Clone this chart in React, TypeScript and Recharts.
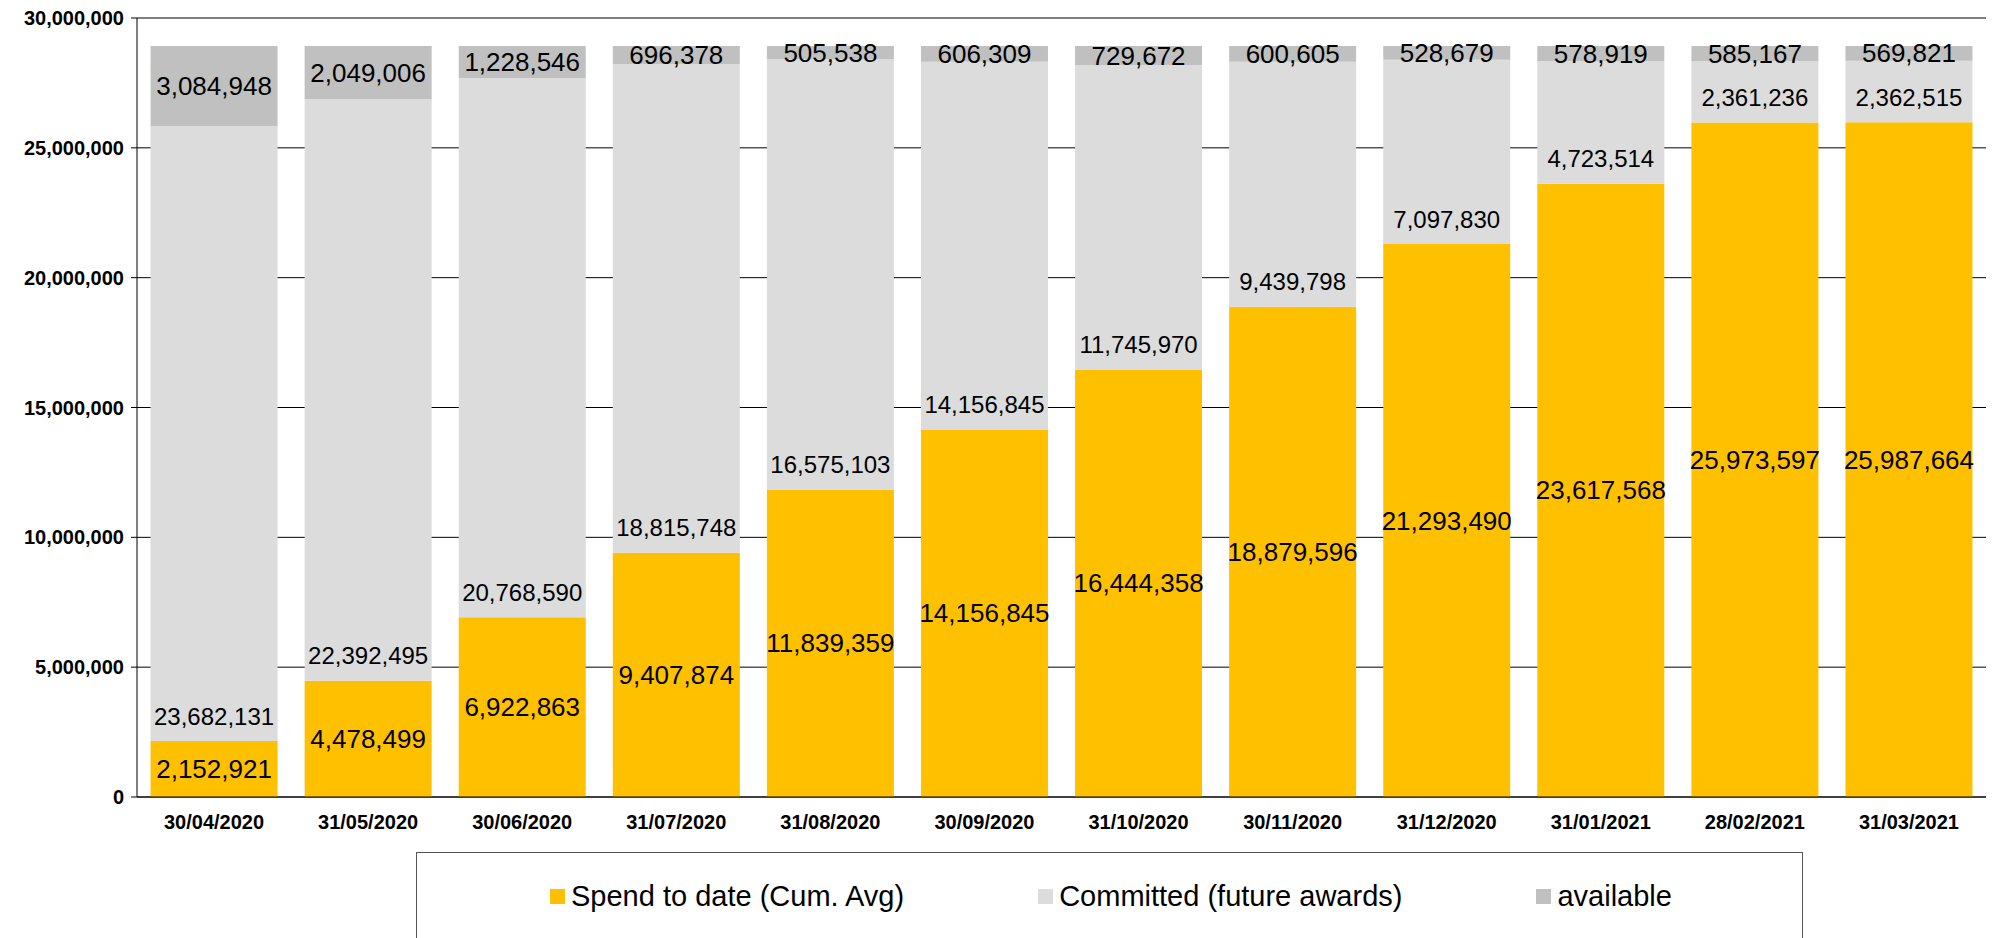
import React from "react";
import { BarChart, Bar, XAxis, YAxis, CartesianGrid, Legend, LabelList } from "recharts";

const dates = [
  "30/04/2020", "31/05/2020", "30/06/2020", "31/07/2020", "31/08/2020", "30/09/2020",
  "31/10/2020", "30/11/2020", "31/12/2020", "31/01/2021", "28/02/2021", "31/03/2021",
];
const spendToDate = [
  2152921, 4478499, 6922863, 9407874, 11839359, 14156845,
  16444358, 18879596, 21293490, 23617568, 25973597, 25987664,
];
const committed = [
  23682131, 22392495, 20768590, 18815748, 16575103, 14156845,
  11745970, 9439798, 7097830, 4723514, 2361236, 2362515,
];
const available = [
  3084948, 2049006, 1228546, 696378, 505538, 606309,
  729672, 600605, 528679, 578919, 585167, 569821,
];
const yTicks = [0, 5000000, 10000000, 15000000, 20000000, 25000000, 30000000];
const seriesNames = ["Spend to date (Cum. Avg)", "Committed (future awards)", "available"];

const data = dates.map((date, i) => ({
  date,
  spend: spendToDate[i],
  committed: committed[i],
  available: available[i],
}));
// boundaries between categories, for the Excel-style tick marks
const edgeTicks = dates.map((_, i) => i).concat(dates.length);

const FONT = '"Liberation Sans", Arial, sans-serif';
const fmt = (v: number) => Number(v).toLocaleString("en-US");

// label in the middle of a segment
function makeCenterLabel(size: number) {
  return (props: any) => {
    const vb = props.viewBox ?? props;
    return (
      <text
        x={vb.x + vb.width / 2}
        y={vb.y + vb.height / 2}
        textAnchor="middle"
        dominantBaseline="central"
        fontSize={size}
        fontFamily={FONT}
        fill="#000"
      >
        {fmt(props.value)}
      </text>
    );
  };
}

// label sitting at the base of a segment ("inside base")
function BaseLabel(props: any) {
  const vb = props.viewBox ?? props;
  return (
    <text
      x={vb.x + vb.width / 2}
      y={vb.y + vb.height - 25}
      textAnchor="middle"
      dominantBaseline="central"
      fontSize={24}
      fontFamily={FONT}
      fill="#000"
    >
      {fmt(props.value)}
    </text>
  );
}

function LegendBox(props: any) {
  const items = [...(props.payload ?? [])].sort(
    (a: any, b: any) => seriesNames.indexOf(a.value) - seriesNames.indexOf(b.value)
  );
  return (
    <div
      style={{
        display: "flex",
        alignItems: "center",
        gap: 134,
        paddingLeft: 133,
        marginTop: 27,
        fontFamily: FONT,
        fontSize: 29,
        lineHeight: "33px",
        color: "#000",
      }}
    >
      {items.map((it: any) => (
        <div key={it.value} style={{ display: "flex", alignItems: "center", gap: 6 }}>
          <div style={{ width: 15, height: 15, background: it.color }} />
          <span style={{ whiteSpace: "nowrap" }}>{it.value}</span>
        </div>
      ))}
    </div>
  );
}

const tickStyle = { fill: "#000", fontSize: 20, fontWeight: 700, fontFamily: FONT };

export default function App() {
  return (
    <div style={{ width: 1997, height: 938, overflow: "hidden", position: "relative", background: "#fff" }}>
      <style>{`body{margin:0}`}</style>
      <BarChart
        width={1997}
        height={938}
        data={data}
        barCategoryGap="8.8%"
        margin={{ top: 18, right: 11, left: 0, bottom: 101 }}
      >
        <CartesianGrid xAxisId="cat" yAxisId="left" vertical={false} stroke="#000" />
        <XAxis
          xAxisId="edges"
          type="number"
          domain={[0, dates.length]}
          ticks={edgeTicks}
          allowDataOverflow
          tick={false}
          tickLine={{ stroke: "#000" }}
          tickSize={6}
          axisLine={false}
          height={0}
        />
        <XAxis
          xAxisId="cat"
          dataKey="date"
          interval={0}
          tickLine={false}
          tickSize={0}
          tickMargin={18}
          axisLine={{ stroke: "#000" }}
          tick={tickStyle}
          height={40}
        />
        <YAxis
          yAxisId="left"
          domain={[0, 30000000]}
          ticks={yTicks}
          tickFormatter={fmt}
          tick={tickStyle}
          tickSize={6}
          tickMargin={7}
          tickLine={{ stroke: "#000" }}
          axisLine={{ stroke: "#000" }}
          width={137}
        />
        <YAxis
          yAxisId="right"
          orientation="right"
          tick={false}
          tickLine={false}
          axisLine={{ stroke: "#555" }}
          width={0}
        />
        <Legend
          verticalAlign="middle"
          align="center"
          layout="horizontal"
          content={LegendBox}
          wrapperStyle={{
            left: 416,
            top: 852,
            width: 1387,
            height: 100,
            border: "1px solid #555",
            boxSizing: "border-box",
            background: "#fff",
          }}
        />
        <Bar xAxisId="cat" yAxisId="left" dataKey="spend" name={seriesNames[0]} stackId="a" fill="#FFC000" isAnimationActive={false}>
          <LabelList dataKey="spend" content={makeCenterLabel(26)} />
        </Bar>
        <Bar xAxisId="cat" yAxisId="left" dataKey="committed" name={seriesNames[1]} stackId="a" fill="#DCDCDC" isAnimationActive={false}>
          <LabelList dataKey="committed" content={BaseLabel} />
        </Bar>
        <Bar xAxisId="cat" yAxisId="left" dataKey="available" name={seriesNames[2]} stackId="a" fill="#C0C0C0" isAnimationActive={false}>
          <LabelList dataKey="available" content={makeCenterLabel(26)} />
        </Bar>
      </BarChart>
    </div>
  );
}
